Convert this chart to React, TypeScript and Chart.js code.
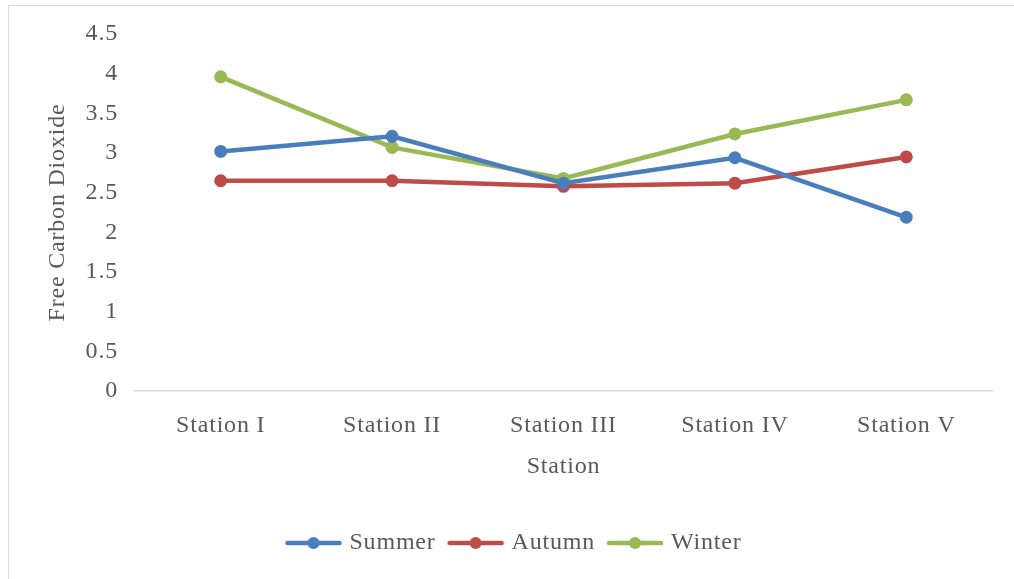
import React, { useEffect, useRef } from "react";
import { Chart, registerables } from "chart.js";

Chart.register(...registerables);

const stations = ["Station I", "Station II", "Station III", "Station IV", "Station V"];
const summer = [3.02, 3.21, 2.62, 2.94, 2.19];
const autumn = [2.65, 2.65, 2.58, 2.62, 2.95];
const winter = [3.96, 3.07, 2.68, 3.24, 3.67];
const seriesNames = ["Summer", "Autumn", "Winter"];
const seriesColors = ["#4A7EBB", "#BE4B48", "#98B954"];
const yTitle = "Free Carbon Dioxide";
const xTitle = "Station";

const FONT = "'Liberation Serif', 'Times New Roman', serif";
const FS = 24;
const TEXT = "#595959";
const SPACING = "0.8px";

function legendIcon(color: string): HTMLCanvasElement {
  const c = document.createElement("canvas");
  c.width = 58;
  c.height = 16;
  const g = c.getContext("2d")!;
  g.strokeStyle = color;
  g.lineWidth = 4.5;
  g.lineCap = "round";
  g.beginPath();
  g.moveTo(3, 8);
  g.lineTo(55, 8);
  g.stroke();
  g.fillStyle = color;
  g.beginPath();
  g.arc(29, 8, 6, 0, Math.PI * 2);
  g.fill();
  return c;
}

const spacingPlugin = {
  id: "spacing",
  beforeUpdate(chart: any) {
    chart.ctx.letterSpacing = SPACING;
  },
  beforeLayout(chart: any) {
    chart.ctx.letterSpacing = SPACING;
  },
  beforeDraw(chart: any) {
    chart.ctx.letterSpacing = SPACING;
  },
};

export default function App() {
  const ref = useRef<HTMLCanvasElement | null>(null);

  useEffect(() => {
    if (!ref.current) return;
    const values = [summer, autumn, winter];
    const icons = seriesColors.map((c) => legendIcon(c));
    const chart = new Chart(ref.current, {
      type: "line",
      data: {
        labels: stations,
        datasets: values.map((v, i) => ({
          label: seriesNames[i],
          data: v,
          borderColor: seriesColors[i],
          backgroundColor: seriesColors[i],
          borderWidth: 4.5,
          pointRadius: 5,
          pointBorderWidth: 3,
          pointBackgroundColor: seriesColors[i],
          pointBorderColor: seriesColors[i],
          tension: 0,
          fill: false,
        })),
      },
      options: {
        animation: false,
        responsive: false,
        devicePixelRatio: 1,
        layout: { padding: { left: 39, right: 22, top: 34, bottom: 14 } },
        plugins: {
          tooltip: { enabled: false },
          legend: {
            position: "bottom",
            labels: {
              usePointStyle: true,
              pointStyleWidth: 48,
              boxHeight: FS,
              padding: 16,
              color: TEXT,
              font: { family: FONT, size: FS },
              generateLabels: (ch: any) => {
                const items = Chart.defaults.plugins.legend.labels.generateLabels(ch);
                return items.map((it: any, i: number) => ({ ...it, pointStyle: icons[i] }));
              },
            },
          },
        },
        scales: {
          x: {
            offset: true,
            grid: { display: false, drawTicks: false },
            border: { display: true, color: "#D9D9D9", width: 1.5 },
            ticks: {
              color: TEXT,
              font: { family: FONT, size: FS },
              padding: 20,
              maxRotation: 0,
              autoSkip: false,
            },
            title: {
              display: true,
              text: xTitle,
              color: TEXT,
              font: { family: FONT, size: FS },
              padding: { top: 0, bottom: 34 },
            },
            afterFit: (s: any) => {
              s.height = 124;
            },
          },
          y: {
            min: 0,
            max: 4.5,
            grid: { display: false, drawTicks: false },
            border: { display: false },
            ticks: {
              stepSize: 0.5,
              color: TEXT,
              font: { family: FONT, size: FS },
              padding: 17,
              callback: (v: any) => String(v),
            },
            title: {
              display: true,
              text: yTitle,
              color: TEXT,
              font: { family: FONT, size: FS },
              padding: { top: 4, bottom: 0 },
            },
            afterFit: (s: any) => {
              s.width = 96;
            },
          },
        },
      },
      plugins: [spacingPlugin],
    });
    return () => chart.destroy();
  }, []);

  return (
    <div>
      <div style={{ position: "absolute", left: 0, top: 0, width: 1014, height: 579 }}>
        <canvas ref={ref} width={1014} height={579} style={{ display: "block" }} />
      </div>
      <div
        style={{
          position: "absolute",
          left: 8,
          top: 5,
          width: 1006,
          height: 574,
          boxSizing: "border-box",
          borderTop: "1.5px solid #D9D9D9",
          borderLeft: "1.5px solid #D9D9D9",
          pointerEvents: "none",
        }}
      />
    </div>
  );
}
